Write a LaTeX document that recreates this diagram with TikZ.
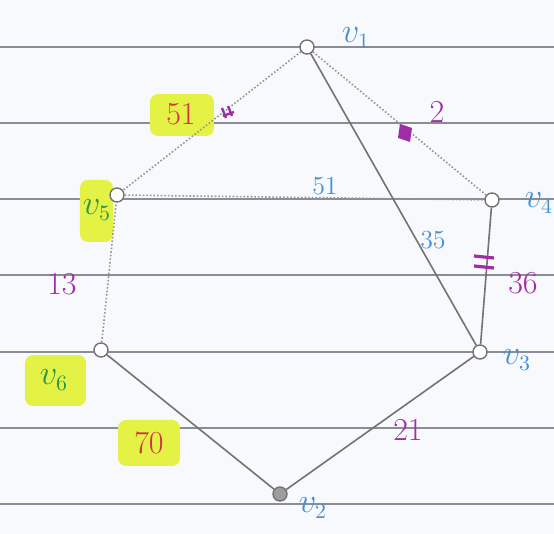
\documentclass[tikz,border=0pt]{standalone}
\usepackage{amsmath}
\usepackage{xcolor}
\usepackage{tikz}
\usetikzlibrary{positioning}
\definecolor{paper}{RGB}{248,249,252}
\definecolor{ruled}{RGB}{140,140,150}
\definecolor{pencil}{RGB}{115,115,115}
\definecolor{hilite}{RGB}{228,242,70}
\definecolor{inkred}{RGB}{205,55,65}
\definecolor{inkpurple}{RGB}{160,45,165}
\definecolor{inkblue}{RGB}{70,145,215}
\definecolor{inkgreen}{RGB}{40,150,75}
\newcommand{\paperline}[1]{\draw[ruled,line width=0.8pt] (0,#1) -- (554,#1);}
\newcommand{\hlpatch}[2]{\fill[hilite,rounded corners=4pt] #1 rectangle #2;}
\tikzset{
  vtx/.style={circle,draw=pencil,fill=white,line width=0.7pt,inner sep=0pt,minimum size=7pt},
  solidedge/.style={draw=pencil,line width=0.8pt},
  faintedge/.style={draw=pencil!75,line width=0.8pt,densely dotted},
  wt/.style={font=\fontsize{16}{18}\selectfont},
  smallwt/.style={font=\fontsize{13}{15}\selectfont,text=inkblue},
  vname/.style={font=\fontsize{16}{18}\selectfont,text=inkblue},
}

\begin{document}
\begin{tikzpicture}[x=0.5pt,y=-0.5pt]
\fill[paper] (0,0) rectangle (554,534);
\useasboundingbox (0,0) rectangle (554,534);
\clip (0,0) rectangle (554,534);
\paperline{47}\paperline{123}\paperline{199}\paperline{275}
\paperline{352}\paperline{428}\paperline{504}
% highlighter patches
\hlpatch{(150,94)}{(214,136)}
\hlpatch{(118,420)}{(180,466)}
\hlpatch{(80,180)}{(113,242)}
\hlpatch{(25,355)}{(86,406)}
% vertices
\node[vtx] (v1) at (307,47) {};
\node[vtx] (v4) at (492,200) {};
\node[vtx] (v3) at (480,352) {};
\node[vtx,fill=pencil!70] (v2) at (280,494) {};
\node[vtx] (v6) at (101,350) {};
\node[vtx] (v5) at (117,195) {};
% edges
\draw[faintedge] (v1) -- (v5);
\draw[faintedge] (v1) -- (v4);
\draw[faintedge] (v5) -- (v4);
\draw[faintedge] (v6) -- (v5);
\draw[solidedge] (v1) -- (v3);
\draw[solidedge] (v4) -- (v3);
\draw[solidedge] (v3) -- (v2);
\draw[solidedge] (v2) -- (v6);
% pen marks on edges
\draw[inkpurple,line width=1.2pt] (222,108) -- (226,118) (228,106) -- (232,116) (223,116) -- (234,112);
\fill[inkpurple] (400,124) -- (412,128) -- (410,142) -- (398,138) -- cycle;
\draw[inkpurple,line width=1.6pt] (474,256) -- (494,258) (474,266) -- (494,268);
% weights
\node[wt,text=inkred] (w15) at (181,114) {51};
\node[wt,text=inkpurple] (w14) at (437,112) {2};
\node[smallwt] (w54) at (325,186) {51};
\node[smallwt] (w13) at (433,240) {35};
\node[wt,text=inkpurple] (w43) at (523,283) {36};
\node[wt,text=inkpurple] (w65) at (62,284) {13};
\node[wt,text=inkred] (w26) at (149,443) {70};
\node[wt,text=inkpurple] (w32) at (408,430) {21};
% vertex names
\node[vname] (n1) at (356,38) {$v_1$};
\node[vname] (n4) at (539,203) {$v_4$};
\node[vname] (n3) at (517,360) {$v_3$};
\node[vname] (n2) at (313,508) {$v_2$};
\node[vname,text=inkgreen] (n5) at (97,210) {$v_5$};
\node[vname,text=inkgreen] (n6) at (54,380) {$v_6$};
\end{tikzpicture}
\end{document}
